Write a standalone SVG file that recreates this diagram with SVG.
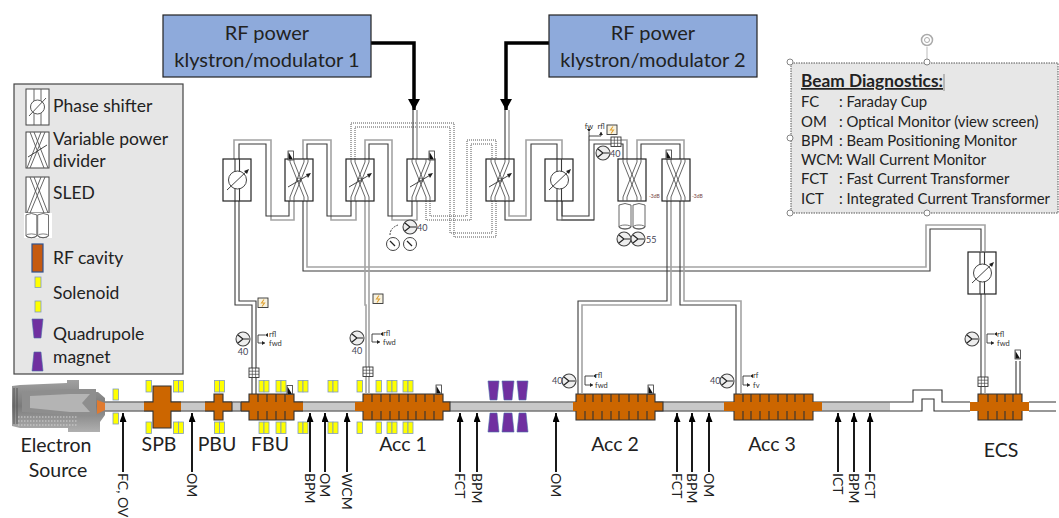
<svg xmlns="http://www.w3.org/2000/svg" xmlns:xlink="http://www.w3.org/1999/xlink" width="1059" height="518" viewBox="0 0 1059 518">
<style>
text{font-family:"Lato","Open Sans","Liberation Sans",sans-serif;fill:#222}
.big{font-size:19.500px}
.leg{font-size:17.500px}
.diag{font-size:14.900px}
.rot{font-size:14px}
.tiny{font-size:7.500px;fill:#333}
.num{font-size:9px;fill:#445}
.db{font-size:5px;fill:#744}
.gw{fill:none;stroke:#a4a4a4;stroke-width:1.600}
.dw{fill:none;stroke:#3a3a3a;stroke-width:1.100}
.dot{fill:none;stroke:#555;stroke-width:1;stroke-dasharray:1 1}
.box{fill:#fff;stroke:#222;stroke-width:1.200}
.xl{fill:none;stroke:#555;stroke-width:.9}
.sol{fill:#ff0;stroke:#7f9cc0;stroke-width:.8}
.quad{fill:#7030a0;stroke:#4a6fa8;stroke-width:.6}
.cav{fill:#cc6600}
.cl{fill:none;stroke:#333;stroke-width:1.100}
.arr{stroke:#000;stroke-width:1.800;fill:none;marker-end:url(#ah)}
.thick{stroke:#000;stroke-width:3.500;fill:none;marker-end:url(#bh)}
.brk{fill:none;stroke:#333;stroke-width:.9;marker-start:url(#sa);marker-end:url(#sa)}
.rf{fill:#8eaadb;stroke:#222;stroke-width:1.200}
.rft{font-size:20px;text-anchor:middle}
.hd{fill:#fff;stroke:#777;stroke-width:.9}
</style>
<defs>
<marker id="ah" markerUnits="userSpaceOnUse" markerWidth="10" markerHeight="8" refX="9" refY="3.500" orient="auto"><path d="M0 0L9 3.500L0 7Z" fill="#000"/></marker>
<marker id="bh" markerUnits="userSpaceOnUse" markerWidth="13" markerHeight="13" refX="11" refY="6" orient="auto"><path d="M0 0L11 6L0 12Z" fill="#000"/></marker>
<marker id="sa" markerUnits="userSpaceOnUse" markerWidth="4" markerHeight="4" refX="3" refY="2" orient="auto"><path d="M0 0L3 2L0 4Z" fill="#222"/></marker>
<g id="xs">
<rect class="box" width="28" height="42"/>
<path class="xl" d="M5 0V3L19 38V42M9 0V3L23 38V42M19 0V3L5 38V42M23 0V3L9 38V42"/>
</g>
<g id="dv">
<use xlink:href="#xs"/>
<path d="M3 28L25 15" stroke="#444" stroke-width="1" fill="none"/><path d="M26 14L21 15L23 19Z" fill="#222"/><circle cx="14" cy="21" r="2" fill="none" stroke="#444" stroke-width=".8"/>
</g>
<g id="ps">
<rect class="box" width="28" height="42"/>
<path class="dw" d="M12 0V42M16.500 0V42"/>
<circle cx="14.500" cy="21" r="9" fill="#fff" stroke="#444" stroke-width="1"/>
<path d="M4 31L25 11" stroke="#444" stroke-width="1" fill="none"/><path d="M26 10L21 12L24 15Z" fill="#222"/>
</g>
<g id="pm"><circle r="7" fill="#eee" stroke="#444" stroke-width="1.100"/><path d="M-5 -4L0 0L-5 4M0 0H6" fill="none" stroke="#222" stroke-width="1.200"/></g>
<g id="gg"><circle r="6.500" fill="#fff" stroke="#444" stroke-width="1"/><path d="M-3 -3L2 2" stroke="#222" stroke-width="1.300"/></g>
<g id="vac"><rect width="5.500" height="9" fill="#fff" stroke="#333" stroke-width=".8"/><path d="M0.500 1L5 8.500H0.500Z" fill="#111"/></g>
<g id="cpl"><rect width="10" height="9.500" fill="#fff" stroke="#333" stroke-width=".9"/><path d="M3.300 0V9.500M6.600 0V9.500M0 3.200H10M0 6.300H10" stroke="#444" stroke-width=".7" fill="none"/></g>
<g id="zap"><rect width="10" height="9.500" fill="#f7f2e0" stroke="#333" stroke-width=".9"/><path d="M6 1.500L3.500 5H6.500L4 8.500" stroke="#e0a030" stroke-width="1.100" fill="none"/></g>
<g id="s1"><rect class="sol" width="5.500" height="11.500"/></g>
<g id="s2"><rect class="sol" width="5" height="11.500"/><rect class="sol" x="5" width="5" height="11.500"/></g>
<g id="cyl"><path d="M0 2Q6 -1 12 2V24Q6 28 0 24Z" fill="#fff" stroke="#555" stroke-width=".9"/><ellipse cx="6" cy="24" rx="6" ry="2" fill="none" stroke="#555" stroke-width=".8"/></g>
<linearGradient id="gsrc" x1="0" y1="0" x2="0" y2="1"><stop offset="0" stop-color="#a0a0a0"/><stop offset=".5" stop-color="#7a7a7a"/><stop offset="1" stop-color="#b0b0b0"/></linearGradient>
</defs>

<g id="source">
<path d="M12 386L20 385L67 383V380H79V392H98L105 398V415L100 422V432H68V428H20L12 426Z" fill="url(#gsrc)"/>
<path d="M22 392L67 389H96V415H67L22 412Z" fill="#8e8e8e"/>
<path d="M30 396L70 394H90L82 403L90 412H70L30 408Z" fill="#b4b4b4"/>
<path d="M14 388V424M17 388V424" stroke="#555" stroke-width="1"/>
<path d="M18 417H78M18 421H78M18 425H78" stroke="#d4d4d4" stroke-width="1.200" stroke-dasharray="1.500 1.500"/>
<path d="M97 400L105 403V410L97 414Z" fill="#e07a30"/>
</g>

<g id="beamline">
<rect x="105" y="402.500" width="785" height="8" fill="#c8c8c8"/>
<path class="cl" d="M105 402H913V390H942V402H970M105 411H922V399H934V411H970M1029 402H1056M1029 411H1056"/>
</g>

<g id="spb"><rect class="cav" x="144" y="402" width="37" height="9"/><rect class="cav" x="153" y="386" width="18" height="42"/><path class="cl" d="M144 402H153V386H171V402H181M144 411H153V428H171V411H181"/></g>
<g id="pbu"><rect class="cav" x="205" y="402" width="27" height="9"/><rect class="cav" x="214" y="394" width="9" height="26"/><path class="cl" d="M205 402H214V394H223V402H232M205 411H214V420H223V411H232V402"/></g>
<g id="fbu"><rect class="cav" x="241" y="402" width="62" height="9"/><rect class="cav" x="249" y="394" width="45" height="26"/><path class="cl" d="M241 402H249V394H294V402H303M241 411H249V420H294V411H303M241 402V411M258 394V402M267 394V402M276 394V402M285 394V402M258 411V420M267 411V420M276 411V420M285 411V420"/></g>
<g id="acc1"><rect class="cav" x="355" y="402" width="95" height="9"/><rect class="cav" x="363" y="394" width="80" height="26"/><path class="cl" d="M363 402V394H443V402H450V411H443V420H363V411M372 394V402M381 394V402M390 394V402M399 394V402M408 394V402M416 394V402M425 394V402M434 394V402M372 411V420M381 411V420M390 411V420M399 411V420M408 411V420M416 411V420M425 411V420M434 411V420"/></g>
<g id="acc2"><rect class="cav" x="573" y="402" width="90" height="9"/><rect class="cav" x="576" y="394" width="79" height="26"/><path class="cl" d="M576 402V394H655V402H663V411H655V420H576V411M585 394V402M593 394V402M602 394V402M611 394V402M619 394V402M629 394V402M638 394V402M647 394V402M585 411V420M593 411V420M602 411V420M611 411V420M619 411V420M629 411V420M638 411V420M647 411V420"/></g>
<g id="acc3"><rect class="cav" x="724" y="402" width="98" height="9"/><rect class="cav" x="734" y="394" width="79" height="26"/><path class="cl" d="M734 402V394H813V402M734 411V420H813V411M743 394V402M751 394V402M760 394V402M769 394V402M778 394V402M787 394V402M795 394V402M804 394V402M743 411V420M751 411V420M760 411V420M769 411V420M778 411V420M787 411V420M795 411V420M804 411V420"/></g>
<g id="ecs"><rect class="cav" x="970" y="402" width="59" height="9"/><rect class="cav" x="978" y="394" width="44" height="26"/><path class="cl" d="M978 402V394H1022V402M978 411V420H1022V411M988 394V402M997 394V402M1005 394V402M1013 394V402M988 411V420M997 411V420M1005 411V420M1013 411V420"/></g>

<g id="solenoids">
<rect class="sol" x="113" y="389" width="5.500" height="11"/><rect class="sol" x="113" y="413" width="5.500" height="11"/>
<use xlink:href="#s1" x="146" y="380.500"/><use xlink:href="#s2" x="173.500" y="380.500"/><use xlink:href="#s2" x="214.500" y="380.500"/><use xlink:href="#s2" x="259" y="380.500"/><use xlink:href="#s2" x="276" y="380.500"/><use xlink:href="#s2" x="298" y="380.500"/><use xlink:href="#s2" x="328" y="380.500"/><use xlink:href="#s1" x="357" y="380.500"/><use xlink:href="#s1" x="376" y="380.500"/><use xlink:href="#s2" x="387" y="380.500"/><use xlink:href="#s2" x="403" y="380.500"/>
<use xlink:href="#s1" x="146" y="422"/><use xlink:href="#s2" x="173.500" y="422"/><use xlink:href="#s2" x="214.500" y="422"/><use xlink:href="#s2" x="259" y="422"/><use xlink:href="#s2" x="276" y="422"/><use xlink:href="#s2" x="298" y="422"/><use xlink:href="#s2" x="328" y="422"/><use xlink:href="#s1" x="357" y="422"/><use xlink:href="#s1" x="376" y="422"/><use xlink:href="#s2" x="387" y="422"/><use xlink:href="#s2" x="403" y="422"/>
</g>

<g id="quadrupoles">
<path class="quad" d="M488 381H499L497 400H490Z"/><path class="quad" d="M502 381H514L512 400H504Z"/><path class="quad" d="M517 381H528L526 400H519Z"/>
<path class="quad" d="M490 413H497L499 432H488Z"/><path class="quad" d="M504 413H512L514 432H502Z"/><path class="quad" d="M519 413H526L528 432H517Z"/>
</g>

<g id="connectors">
<path class="dot" d="M351 159V123H454V237H496V201M355 159V127H450V233H492V201M426 201V220H471V144H492V159M430 201V216H467V140H496V159"/>
<path class="gw" d="M234 159V140H271V220H294V201M303 159V140H331V220H356V201M365 159V140H392V220H417V201M509 201V216H526V140H562V159M594 220H562V201M589 140H627V159M637 159V140H684V159M417 110V159M509 110V159"/>
<path class="dw" d="M239 159V144H266V216H289V201M307 159V144H327V216H351V201M369 159V144H388V216H412V201M505 201V220H531V144H557V159M557 201V220H594V144H623V159M562 201V216H589V140M641 159V144H680V159M413 110V159M505 110V159"/>
<path class="dw" d="M235 201V305H252V394M239 201V301H256V394"/>
<path class="dw" d="M303 201V271H930V229H981V251"/>
<path class="gw" d="M307 201V267H926V225H985V251"/>
<path class="gw" d="M365 201V305H366V394M369 201V394"/>
<path class="dw" d="M667 201V301H578V394M680 201V305H736V394"/>
<path class="gw" d="M671 201V305H582V394M684 201V301H741V394"/>
<path class="dw" d="M981 294V394"/><path class="gw" d="M985 294V394"/>
<path class="dw" d="M1016 361V394M1020 361V394"/>
<path class="thick" d="M371 43H414V110"/>
<path class="thick" d="M549 43H506V110"/>
<path class="arr" d="M123 472V413"/><path class="arr" d="M192 472V413"/><path class="arr" d="M310 472V413"/><path class="arr" d="M325 472V413"/><path class="arr" d="M347 472V413"/><path class="arr" d="M460 472V413"/><path class="arr" d="M477 472V413"/><path class="arr" d="M556 472V413"/><path class="arr" d="M677 472V413"/><path class="arr" d="M692 472V413"/><path class="arr" d="M709 472V413"/><path class="arr" d="M838 472V413"/><path class="arr" d="M854 472V413"/><path class="arr" d="M870 472V413"/>
<path class="brk" d="M265 335H258V343H265"/><path class="brk" d="M380 334H372V342H380"/><path class="brk" d="M593 376H585V385H593"/><path class="brk" d="M750 376H743V385H750"/><path class="brk" d="M994 334H987V343H994"/>
<path class="brk" d="M589 132V136H601V132"/><path class="dw" d="M589 136V140"/>
<path d="M390 235Q390 228 398 225" fill="none" stroke="#444" stroke-width="1" stroke-dasharray="2 1"/>
</g>

<g id="rf1"><rect class="rf" x="163" y="15" width="208" height="62"/><text class="rft" x="267" y="40">RF power</text><text class="rft" x="267" y="67">klystron/modulator 1</text></g>
<g id="rf2"><rect class="rf" x="549" y="15" width="208" height="62"/><text class="rft" x="653" y="40">RF power</text><text class="rft" x="653" y="67">klystron/modulator 2</text></g>

<g id="ps1"><use xlink:href="#ps" x="223" y="159"/></g>
<g id="div1"><use xlink:href="#dv" x="285" y="159"/><use xlink:href="#vac" x="288" y="151"/></g>
<g id="div2"><use xlink:href="#dv" x="346" y="159"/></g>
<g id="div3"><use xlink:href="#dv" x="407" y="159"/><use xlink:href="#vac" x="429" y="151"/></g>
<g id="div4"><use xlink:href="#dv" x="486" y="159"/></g>
<g id="ps2"><use xlink:href="#ps" x="545" y="159"/></g>
<g id="sled1"><use xlink:href="#xs" x="618" y="159"/><text class="db" x="649" y="198">-3dB</text><use xlink:href="#cyl" x="619" y="203"/><use xlink:href="#cyl" x="633" y="203"/><use xlink:href="#pm" x="624" y="239"/><use xlink:href="#pm" x="638" y="239"/><text class="num" x="646" y="243">55</text></g>
<g id="sled2"><use xlink:href="#xs" x="662" y="159"/><use xlink:href="#vac" x="666" y="150"/><text class="db" x="692" y="198">-3dB</text></g>
<g id="ps3"><use xlink:href="#ps" x="968" y="252"/></g>

<g id="pumps1"><use xlink:href="#pm" x="410" y="227"/><text class="num" x="417" y="231">40</text><use xlink:href="#gg" x="393" y="244"/><use xlink:href="#gg" x="410" y="244"/></g>
<g id="pumps2"><use xlink:href="#pm" x="603" y="153"/><text class="num" x="610" y="157">40</text><use xlink:href="#zap" x="607" y="125"/><use xlink:href="#cpl" x="611" y="137"/><text class="tiny" x="589" y="129" text-anchor="middle">fw</text><text class="tiny" x="601" y="129" text-anchor="middle">rfl</text></g>
<g id="fbu-diag"><use xlink:href="#zap" x="258" y="298"/><use xlink:href="#pm" x="243" y="339"/><text class="num" x="243" y="355" text-anchor="middle">40</text><text class="tiny" x="269" y="337">rfl</text><text class="tiny" x="269" y="346">fwd</text><use xlink:href="#cpl" x="249" y="368"/><use xlink:href="#vac" x="287" y="385.500"/></g>
<g id="acc1-diag"><use xlink:href="#zap" x="373" y="294"/><use xlink:href="#pm" x="357" y="338"/><text class="num" x="357" y="354" text-anchor="middle">40</text><text class="tiny" x="383" y="336">rfl</text><text class="tiny" x="383" y="345">fwd</text><use xlink:href="#cpl" x="363" y="367"/><use xlink:href="#vac" x="436" y="385"/></g>
<g id="acc2-diag"><use xlink:href="#pm" x="569" y="381"/><text class="num" x="552" y="384">40</text><text class="tiny" x="595" y="378">rfl</text><text class="tiny" x="595" y="388">fwd</text><use xlink:href="#vac" x="648" y="385"/></g>
<g id="acc3-diag"><use xlink:href="#pm" x="727" y="381"/><text class="num" x="710" y="384">40</text><text class="tiny" x="753" y="378">rf</text><text class="tiny" x="753" y="388">fv</text></g>
<g id="ecs-diag"><use xlink:href="#pm" x="972" y="339"/><text class="tiny" x="997" y="337">rfl</text><text class="tiny" x="997" y="346">fwd</text><use xlink:href="#cpl" x="978" y="377"/><use xlink:href="#vac" x="1015" y="350"/></g>

<g id="legend">
<rect x="14" y="84" width="169" height="290" fill="#e6e6e6" stroke="#444" stroke-width="1.200"/>
<rect x="26" y="89" width="23" height="36" fill="#fff" stroke="#444"/><path class="xl" d="M34 89V125M41 89V125"/><circle cx="37.500" cy="107" r="7" fill="#fff" stroke="#555"/><path d="M29 116L46 98" stroke="#555" fill="none"/>
<rect x="26" y="132" width="23" height="36" fill="#fff" stroke="#444"/><path class="xl" d="M30 132L44 168M34 132L48 168M45 132L30 168M41 132L27 168"/><path d="M28 157L47 145" stroke="#444" fill="none"/>
<rect x="26" y="177" width="23" height="36" fill="#fff" stroke="#444"/><path class="xl" d="M30 177L44 213M34 177L48 213M45 177L30 213M41 177L27 213"/>
<rect x="24" y="213" width="28" height="25" fill="#fff"/><g transform="translate(26 213) scale(.9 .95)"><use xlink:href="#cyl"/><use xlink:href="#cyl" x="13"/></g>
<rect x="32" y="244" width="11" height="28" fill="#c55a11" stroke="#2f528f" stroke-width="1.200"/>
<rect class="sol" x="35" y="277" width="6" height="10.500"/><rect class="sol" x="35" y="301" width="6" height="11"/>
<path class="quad" d="M32 319H43L41 338H34Z"/><path class="quad" d="M34 352H41L43 371H32Z"/>
<text class="leg" x="53" y="112">Phase shifter</text><text class="leg" x="53" y="145">Variable power</text><text class="leg" x="53" y="167">divider</text><text class="leg" x="53" y="199">SLED</text><text class="leg" x="53" y="264">RF cavity</text><text class="leg" x="53" y="299">Solenoid</text><text class="leg" x="53" y="340">Quadrupole</text><text class="leg" x="53" y="363">magnet</text>
</g>

<g id="diagnostics">
<rect x="791" y="63" width="267" height="150" fill="#e7e7e7" stroke="#555" stroke-width="1" stroke-dasharray="1.500 1"/>
<path d="M927 47V62" stroke="#bbb" stroke-width="1"/>
<circle cx="927" cy="40" r="5.500" fill="none" stroke="#aaa" stroke-width="1.500"/><circle cx="927" cy="40" r="2.500" fill="none" stroke="#aaa" stroke-width="1"/>
<circle class="hd" cx="790" cy="62" r="3"/><circle class="hd" cx="927" cy="62" r="3"/><circle class="hd" cx="790" cy="138" r="3"/><circle class="hd" cx="790" cy="213" r="3"/><circle class="hd" cx="927" cy="213" r="3"/>
<path d="M944 74V91" stroke="#888"/>
<text class="diag" x="801" y="87" font-weight="700" text-decoration="underline" style="font-size:17.300px">Beam Diagnostics:</text>
<text class="diag" x="801" y="107">FC</text><text class="diag" x="839" y="107">: Faraday Cup</text>
<text class="diag" x="801" y="127">OM</text><text class="diag" x="839" y="127">: Optical Monitor (view screen)</text>
<text class="diag" x="801" y="146">BPM</text><text class="diag" x="839" y="146">: Beam Positioning Monitor</text>
<text class="diag" x="801" y="165">WCM</text><text class="diag" x="839" y="165">: Wall Current Monitor</text>
<text class="diag" x="801" y="184">FCT</text><text class="diag" x="839" y="184">: Fast Current Transformer</text>
<text class="diag" x="801" y="204">ICT</text><text class="diag" x="839" y="204">: Integrated Current Transformer</text>
</g>

<g id="labels">
<text class="big" x="56" y="452" text-anchor="middle">Electron</text><text class="big" x="58" y="477" text-anchor="middle">Source</text>
<text class="big" x="159" y="451" text-anchor="middle">SPB</text><text class="big" x="217" y="451" text-anchor="middle">PBU</text><text class="big" x="270" y="451" text-anchor="middle">FBU</text>
<text class="big" x="403" y="451" text-anchor="middle">Acc 1</text><text class="big" x="615" y="451" text-anchor="middle">Acc 2</text><text class="big" x="772" y="451" text-anchor="middle">Acc 3</text><text class="big" x="1001" y="457" text-anchor="middle">ECS</text>
<g class="rot">
<text class="rot" transform="translate(118 473) rotate(90)">FC, OV</text>
<text class="rot" transform="translate(187 473) rotate(90)">OM</text>
<text class="rot" transform="translate(305 473) rotate(90)">BPM</text>
<text class="rot" transform="translate(320 473) rotate(90)">OM</text>
<text class="rot" transform="translate(342 473) rotate(90)">WCM</text>
<text class="rot" transform="translate(455 473) rotate(90)">FCT</text>
<text class="rot" transform="translate(472 473) rotate(90)">BPM</text>
<text class="rot" transform="translate(551 473) rotate(90)">OM</text>
<text class="rot" transform="translate(672 473) rotate(90)">FCT</text>
<text class="rot" transform="translate(687 473) rotate(90)">BPM</text>
<text class="rot" transform="translate(704 473) rotate(90)">OM</text>
<text class="rot" transform="translate(833 473) rotate(90)">ICT</text>
<text class="rot" transform="translate(849 473) rotate(90)">BPM</text>
<text class="rot" transform="translate(865 473) rotate(90)">FCT</text>
</g>
</g>
</svg>
